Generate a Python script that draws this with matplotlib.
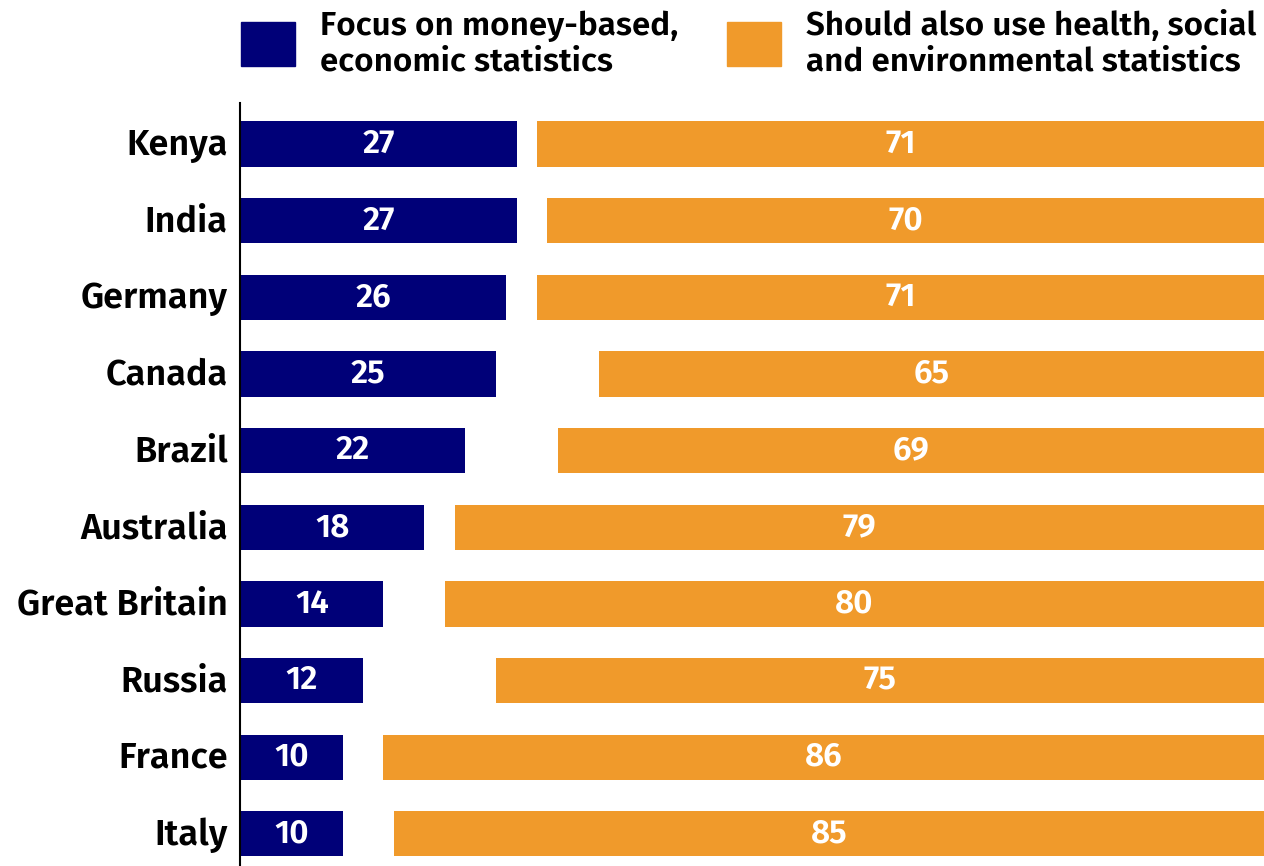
import matplotlib.pyplot as plt
from matplotlib.patches import Rectangle
from matplotlib.transforms import ScaledTranslation

# Survey shares (%) by country
countries = ["Kenya", "India", "Germany", "Canada", "Brazil",
             "Australia", "Great Britain", "Russia", "France", "Italy"]
economic = [27, 27, 26, 25, 22, 18, 14, 12, 10, 10]
broader = [71, 70, 71, 65, 69, 79, 80, 75, 86, 85]

labels = ["Focus on money-based,\neconomic statistics",
          "Should also use health, social\nand environmental statistics"]

NAVY = "#000078"
ORANGE = "#F09A2B"

plt.rcParams["font.family"] = ["Fira Sans", "Asap", "PT Sans", "DejaVu Sans"]
W = 600

fig = plt.figure(figsize=(12.64, 8.66), dpi=100)
ax = fig.add_axes([0.19, 0.0, 0.81, 0.881])

y = list(range(len(countries)))
ax.barh(y, economic, height=0.59, color=NAVY, left=0)
ax.barh(y, broader, height=0.59, color=ORANGE,
        left=[100 - v for v in broader])

for i in y:
    ax.text(economic[i] / 2, i, str(economic[i]), color="white",
            ha="center", va="center", fontsize=24, fontweight=W)
    ax.text(100 - broader[i] / 2, i, str(broader[i]), color="white",
            ha="center", va="center", fontsize=24, fontweight=W)

ax.set_xlim(0, 100)
ax.set_ylim(9.42, -0.535)
ax.set_yticks(y)
ax.set_yticklabels(countries, fontsize=26, fontweight=W)
ax.tick_params(axis="y", length=0, pad=9)
# nudge country names up a little so they sit level with the bars
nudge = ScaledTranslation(0, 3 / 100, fig.dpi_scale_trans)
for lab in ax.get_yticklabels():
    lab.set_transform(lab.get_transform() + nudge)
ax.set_xticks([])
for side in ["top", "right", "bottom"]:
    ax.spines[side].set_visible(False)
ax.spines["left"].set_linewidth(1.5)

# Legend boxes and labels across the top
for x0, color, text in [(241, NAVY, labels[0]), (727, ORANGE, labels[1])]:
    fig.patches.append(Rectangle((x0 / 1264, 1 - 66 / 866), 54 / 1264, 44 / 866,
                                 transform=fig.transFigure, color=color))
    fig.text((x0 + 79) / 1264, 1 - 44 / 866, text, fontsize=24, fontweight=W,
             ha="left", va="center", linespacing=1.18)

fig.savefig("out.png", dpi=100)
